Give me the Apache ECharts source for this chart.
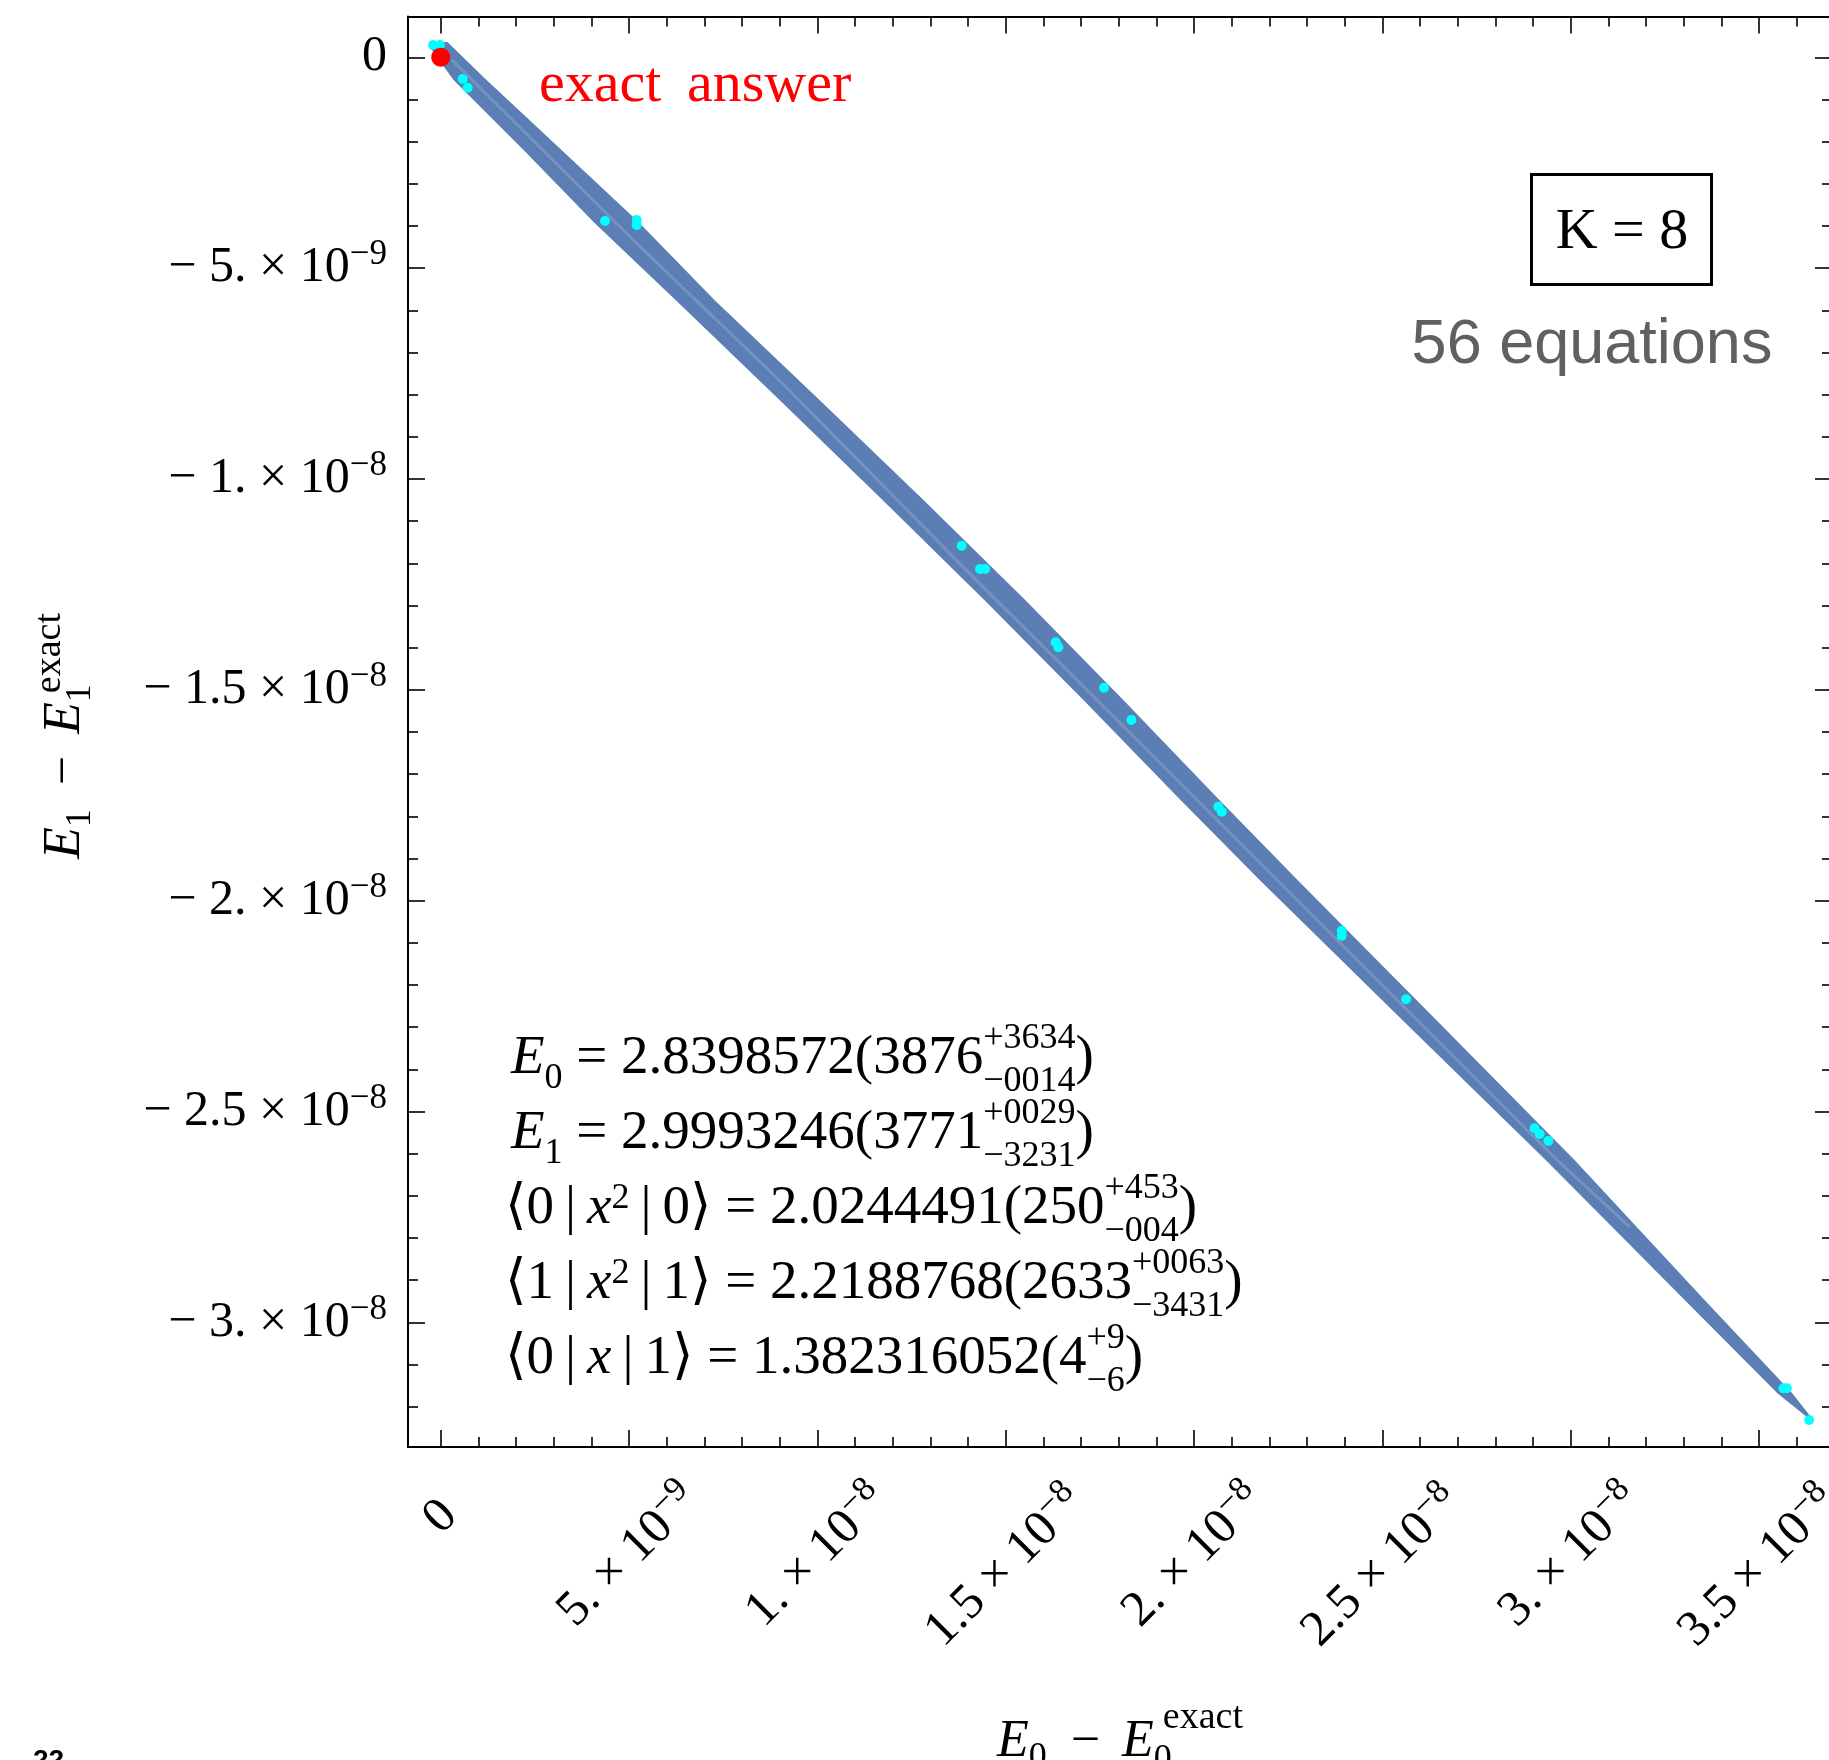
<!DOCTYPE html>
<html>
<head>
<meta charset="utf-8">
<script src="https://cdn.jsdelivr.net/npm/echarts@6/dist/echarts.min.js"></script>
<style>
html,body{margin:0;padding:0;background:#ffffff;}
#chart{width:1829px;height:1760px;}
</style>
</head>
<body>
<div id="chart"></div>
<script>
// ================= DATA =================
// x axis (E0 - E0exact) tick labels
const xTickValues   = [0, 5e-9, 1e-8, 1.5e-8, 2e-8, 2.5e-8, 3e-8, 3.5e-8];
const xTickMantissa = ['0', '5.', '1.', '1.5', '2.', '2.5', '3.', '3.5'];
const xTickExponent = ['', '−9', '−8', '−8', '−8', '−8', '−8', '−8'];
// y axis (E1 - E1exact) tick labels
const yTickValues   = [0, -5e-9, -1e-8, -1.5e-8, -2e-8, -2.5e-8, -3e-8];
const yTickMantissa = ['0', '−5.', '−1.', '−1.5', '−2.', '−2.5', '−3.'];
const yTickExponent = ['', '−9', '−8', '−8', '−8', '−8', '−8'];
// axis ranges
const xRange = [-0.868e-9, 36.94e-9];
const yRange = [-32.955e-9, 0.9675e-9];

// allowed region (band): upper/right edge from top to tip ...
const bandUpperX = [-0.258e-9, 0.167e-9, 1.150e-9, 3.169e-9, 5.213e-9, 7.230e-9, 10.019e-9, 12.780e-9, 15.481e-9,
                    18.086e-9, 20.637e-9, 22.711e-9, 26.394e-9, 30.066e-9, 33.518e-9, 35.842e-9, 36.413e-9];
const bandUpperY = [0.339e-9, 0.339e-9, -0.515e-9, -2.198e-9, -3.905e-9, -5.755e-9, -8.127e-9, -10.498e-9, -12.869e-9,
                    -15.241e-9, -17.612e-9, -19.509e-9, -22.829e-9, -26.149e-9, -29.469e-9, -31.674e-9, -32.315e-9];
// ... then lower/left edge from tip back to top
const bandLowerX = [35.523e-9, 33.067e-9, 29.376e-9, 25.571e-9, 21.782e-9, 19.681e-9, 17.103e-9, 14.472e-9,
                    11.771e-9, 9.036e-9, 6.275e-9, 4.097e-9, 2.238e-9, 0.353e-9, -0.258e-9];
const bandLowerY = [-31.674e-9, -29.469e-9, -26.149e-9, -22.829e-9, -19.509e-9, -17.612e-9, -15.241e-9, -12.869e-9,
                    -10.498e-9, -8.127e-9, -5.755e-9, -3.905e-9, -2.198e-9, -0.515e-9, 0.244e-9];
// faint inner seam of the overlapping regions
const seamX = [0.300e-9, 5.112e-9, 9.065e-9, 13.741e-9, 18.489e-9, 22.021e-9, 25.659e-9, 29.642e-9, 31.579e-9];
const seamY = [-0.064e-9, -4.332e-9, -7.723e-9, -11.968e-9, -16.189e-9, -19.343e-9, -22.591e-9, -26.149e-9, -27.744e-9];

// cyan sample points
const cyanX = [-0.204e-9, -0.019e-9, 0.584e-9, 0.717e-9, 4.363e-9, 5.204e-9, 5.204e-9, 13.834e-9, 14.320e-9, 14.453e-9,
               16.330e-9, 16.399e-9, 17.613e-9, 18.338e-9, 20.648e-9, 20.738e-9, 23.924e-9, 23.924e-9, 25.632e-9,
               29.044e-9, 29.177e-9, 29.410e-9, 35.650e-9, 35.741e-9, 36.333e-9];
const cyanY = [0.292e-9, 0.292e-9, -0.515e-9, -0.721e-9, -3.882e-9, -3.858e-9, -3.977e-9, -11.582e-9, -12.135e-9, -12.135e-9,
               -13.873e-9, -13.991e-9, -14.949e-9, -15.715e-9, -17.771e-9, -17.890e-9, -20.712e-9, -20.830e-9, -22.338e-9,
               -25.397e-9, -25.532e-9, -25.698e-9, -31.563e-9, -31.563e-9, -32.316e-9];
// exact answer
const exactX = [0];
const exactY = [0];

// text annotations
const eqLines = [
  [{t:'E', it:true}, {sub:'0'}, {t:' = 2.8398572(3876'}, {sup:'+3634', sub:'−0014'}, {t:')'}],
  [{t:'E', it:true}, {sub:'1'}, {t:' = 2.9993246(3771'}, {sup:'+0029', sub:'−3231'}, {t:')'}],
  [{t:'⟨0\u2009|\u2009'}, {t:'x', it:true}, {sup:'2', supDy:-10}, {t:'\u2009|\u20090⟩ = 2.0244491(250'}, {sup:'+453', sub:'−004'}, {t:')'}],
  [{t:'⟨1\u2009|\u2009'}, {t:'x', it:true}, {sup:'2', supDy:-10}, {t:'\u2009|\u20091⟩ = 2.2188768(2633'}, {sup:'+0063', sub:'−3431'}, {t:')'}],
  [{t:'⟨0\u2009|\u2009'}, {t:'x', it:true}, {t:'\u2009|\u20091⟩ = 1.382316052(4'}, {sup:'+9', sub:'−6'}, {t:')'}]
];
const xTitle = [{t:'E', it:true}, {sub:'0'}, {gap:24}, {t:'−'}, {gap:22}, {t:'E', it:true}, {sup:'exact', sub:'0', supShift:9}];
const yTitle = [{t:'E', it:true}, {sub:'1'}, {gap:24}, {t:'−'}, {gap:22}, {t:'E', it:true}, {sup:'exact', sub:'1', supShift:9}];

// ================= HELPERS =================
const SERIF = '"Liberation Serif", "DejaVu Serif", serif';
const mctx = document.createElement('canvas').getContext('2d');
function measure(text, font) { mctx.font = font; return mctx.measureText(text).width; }
function fontStr(size, italic) { return (italic ? 'italic ' : '') + size + 'px ' + SERIF; }
function txt(text, font, x, y, color) {
  return {type:'text', x:x, y:y, silent:true,
          style:{text:text, font:font, fill:color || '#000', textAlign:'left', textVerticalAlign:'middle'}};
}
function layoutMath(tokens, o) {
  const children = [];
  let cx = 0;
  tokens.forEach(tk => {
    if (tk.gap) { cx += tk.gap; return; }
    if (tk.sup !== undefined || tk.sub !== undefined) {
      let w = 0;
      if (tk.sup !== undefined) {
        const f = fontStr(o.supSize || o.scriptSize, false);
        const sh = tk.supShift || 0;
        children.push(txt(tk.sup, f, cx + sh, tk.supDy !== undefined ? tk.supDy : o.supDy, o.color));
        w = Math.max(w, sh + measure(tk.sup, f));
      }
      if (tk.sub !== undefined) {
        const f = fontStr(o.subSize || o.scriptSize, false);
        children.push(txt(tk.sub, f, cx, tk.sup !== undefined ? o.stackSubDy : o.subDy, o.color));
        w = Math.max(w, measure(tk.sub, f));
      }
      cx += w;
      return;
    }
    const f = fontStr(o.size, tk.it);
    children.push(txt(tk.t, f, cx, 0, o.color));
    cx += measure(tk.t, f);
  });
  return {type:'group', x:o.x, y:o.y, rotation:o.rotation || 0, children:children};
}
function minorTicks(lo, hi) {
  const out = [];
  for (let k = Math.ceil(lo / 1e-9 - 1e-6); k * 1e-9 <= hi; k++) { if (k % 5 !== 0) out.push(k * 1e-9); }
  return out;
}
const findIdx = (arr, v) => arr.findIndex(a => Math.abs(a - v) < 1e-13);

// ================= AXES =================
const P = 13;
const LBL = 50, SUP = 35;
const richStyles = {
  m:  {fontFamily:SERIF, fontSize:LBL, lineHeight:LBL, padding:[P,0,P,0], color:'#000'},
  s:  {fontFamily:SERIF, fontSize:SUP, lineHeight:LBL, padding:[0,0,2*P,0], color:'#000'},
  mL: {fontFamily:SERIF, fontSize:LBL, lineHeight:LBL, padding:[P+15.6,0,P,0], color:'#000'},
  sL: {fontFamily:SERIF, fontSize:SUP, lineHeight:LBL, padding:[15.6,15.6,2*P,0], color:'#000'},
  z:  {fontFamily:SERIF, fontSize:LBL, lineHeight:LBL, padding:[0,0,55,55], color:'#000'},
  y0: {fontFamily:SERIF, fontSize:LBL, lineHeight:LBL, color:'#000'}
};
const xMinor = minorTicks(xRange[0], xRange[1]);
const yMinor = minorTicks(yRange[0], yRange[1]);

function axis(range, position, ticks, len, showLine, label) {
  return {
    type:'value', min:range[0], max:range[1], position:position, gridIndex:0,
    axisLine:{show:showLine, onZero:false, lineStyle:{color:'#000', width:2}},
    splitLine:{show:false},
    axisTick:{show:true, inside:true, length:len, customValues:ticks, lineStyle:{color:'#000', width:1.6}},
    axisLabel: label || {show:false},
    axisPointer:{show:false}
  };
}
const xLabel = {
  show:true, customValues:xTickValues, rotate:45, align:'center', verticalAlign:'middle', margin:109,
  rich:richStyles, color:'#000', hideOverlap:false,
  formatter: v => {
    const i = findIdx(xTickValues, v);
    if (i < 0) return '';
    if (i === 0) return '{z|0}';
    const lng = xTickMantissa[i].length > 2;
    return lng ? '{mL|' + xTickMantissa[i] + ' × 10}{sL|' + xTickExponent[i] + '}'
               : '{m|' + xTickMantissa[i] + ' × 10}{s|' + xTickExponent[i] + '}';
  }
};
const yLabel = {
  show:true, customValues:yTickValues, align:'right', verticalAlign:'middle', margin:21,
  rich:richStyles, color:'#000', hideOverlap:false,
  formatter: v => {
    const i = findIdx(yTickValues, v);
    if (i < 0) return '';
    if (i === 0) return '{y0|0}';
    return '{m|' + yTickMantissa[i].replace('−', '− ') + ' × 10}{s|' + yTickExponent[i] + '}';
  }
};

const option = {
  animation:false,
  backgroundColor:'#ffffff',
  grid:{left:408, top:16.5, width:1424, height:1430.5, containLabel:false, outerBoundsMode:'none'},
  xAxis:[
    axis(xRange, 'bottom', xTickValues, 17, true, xLabel),
    axis(xRange, 'bottom', xMinor, 10, false),
    axis(xRange, 'top', xTickValues, 17, true),
    axis(xRange, 'top', xMinor, 10, false)
  ],
  yAxis:[
    axis(yRange, 'left', yTickValues, 17, true, yLabel),
    axis(yRange, 'left', yMinor, 10, false),
    axis(yRange, 'right', yTickValues, 17, true),
    axis(yRange, 'right', yMinor, 10, false)
  ],
  series:[
    {
      type:'custom', xAxisIndex:0, yAxisIndex:0, silent:true, z:2,
      data:[[0, 0]],
      renderItem:(params, api) => {
        const pts = [];
        for (let i = 0; i < bandUpperX.length; i++) pts.push(api.coord([bandUpperX[i], bandUpperY[i]]));
        for (let i = 0; i < bandLowerX.length; i++) pts.push(api.coord([bandLowerX[i], bandLowerY[i]]));
        return {type:'polygon', shape:{points:pts}, style:{fill:'#5b7fb5', stroke:'#5b7fb5', lineWidth:2, lineJoin:'round'}};
      }
    },
    {
      type:'line', xAxisIndex:0, yAxisIndex:0, silent:true, z:3, showSymbol:false, smooth:false,
      data: seamX.map((x, i) => [x, seamY[i]]),
      lineStyle:{color:'rgba(255,255,255,0.16)', width:3}
    },
    {
      type:'scatter', xAxisIndex:0, yAxisIndex:0, silent:true, z:4, symbolSize:10,
      data: cyanX.map((x, i) => [x, cyanY[i]]),
      itemStyle:{color:'#00ffff', opacity:1}
    },
    {
      type:'scatter', xAxisIndex:0, yAxisIndex:0, silent:true, z:5, symbolSize:19,
      data: exactX.map((x, i) => [x, exactY[i]]),
      itemStyle:{color:'#ff0000', opacity:1}
    }
  ],
  graphic:[]
};

// ---- annotations ----
const g = option.graphic;
g.push(txt('exact', fontStr(58, false), 539, 85.5, '#ff0000'));
g.push(txt('answer', fontStr(58, false), 687, 85.5, '#ff0000'));
g.push({type:'rect', silent:true, shape:{x:1531.5, y:174.5, width:180, height:110},
        style:{fill:'none', stroke:'#000', lineWidth:3}});
g.push({type:'text', x:1622, y:233, silent:true,
        style:{text:'K = 8', font:fontStr(58, false), fill:'#000', textAlign:'center', textVerticalAlign:'middle'}});
g.push({type:'text', x:1592, y:346, silent:true,
        style:{text:'56 equations', font:'63px "Liberation Sans", Arial, sans-serif', fill:'#606060', textAlign:'center', textVerticalAlign:'middle'}});
g.push({type:'text', x:33, y:1747, silent:true,
        style:{text:'22', font:'bold 28px "Liberation Sans", Arial, sans-serif', fill:'#000', textAlign:'left', textVerticalAlign:'top'}});

const eqY = [1059, 1134, 1209, 1284, 1359];
const eqX = [511, 511, 505, 505, 505];
eqLines.forEach((ln, i) => {
  g.push(layoutMath(ln, {x:eqX[i], y:eqY[i], size:55, scriptSize:36, supDy:-20, subDy:20, stackSubDy:23, color:'#000'}));
});
g.push(layoutMath(xTitle, {x:997, y:1742, size:52, scriptSize:36, supSize:38, supDy:-24, subDy:16, stackSubDy:18, color:'#000'}));
g.push(layoutMath(yTitle, {x:65, y:859, rotation:Math.PI / 2, size:52, scriptSize:36, supSize:38, supDy:-15, subDy:16, stackSubDy:16, color:'#000'}));

const chart = echarts.init(document.getElementById('chart'), null, {renderer:'canvas'});
chart.setOption(option);
</script>
</body>
</html>
